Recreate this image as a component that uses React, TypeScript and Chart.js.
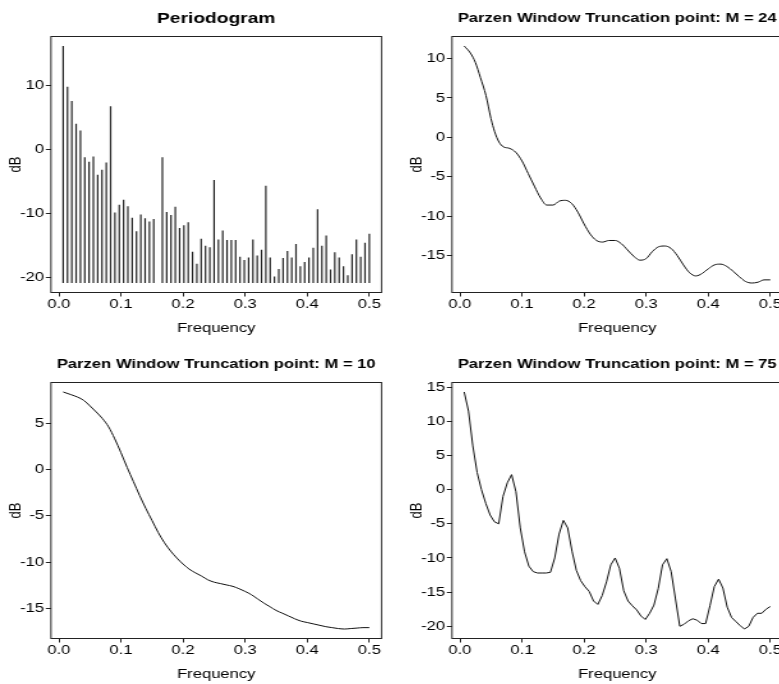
import React, { useEffect, useRef } from 'react';
import { Chart, registerables } from 'chart.js';

Chart.register(...registerables);

// ---------- data ----------
const N = 144; // series length; Fourier frequencies k/N, k = 1..72
const fourierFreq = Array.from({ length: N / 2 }, (_, i) => (i + 1) / N);

const periodogramDb = [
  16.1, 9.75, 7.5, 3.96, 2.92, -1.25, -1.98, -1.15, -4.0, -3.2, -2.1, 6.7,
  -9.9, -8.7, -7.9, -8.9, -10.7, -12.8, -10.2, -10.8, -11.3, -10.9, -20.9, -1.25,
  -9.8, -10.3, -9.0, -12.3, -11.9, -11.4, -16.0, -17.9, -14.0, -15.1, -15.3, -4.8,
  -14.1, -12.7, -14.2, -14.2, -14.2, -16.8, -17.3, -16.9, -14.1, -16.6, -15.7, -5.7,
  -16.9, -19.9, -18.7, -17.0, -15.9, -16.9, -14.8, -18.3, -17.6, -16.9, -15.4, -9.4,
  -15.1, -13.5, -18.8, -16.1, -16.9, -18.3, -19.7, -16.4, -14.1, -16.8, -14.6, -13.2,
];

const parzen24Freq = [
  0.0069, 0.017, 0.025, 0.033, 0.042, 0.05, 0.056, 0.063, 0.07,
  0.08, 0.09, 0.10, 0.11, 0.12, 0.13, 0.14, 0.15, 0.16, 0.17, 0.18, 0.19, 0.20,
  0.21, 0.22, 0.23, 0.24, 0.25, 0.26, 0.27, 0.28, 0.29, 0.30, 0.31, 0.32, 0.33,
  0.34, 0.35, 0.36, 0.37, 0.38, 0.39, 0.40, 0.41, 0.42, 0.43, 0.44, 0.45, 0.46,
  0.47, 0.48, 0.49, 0.50,
];
const parzen24Db = [
  11.6, 10.7, 9.5, 7.6, 5.3, 2.4, 0.7, -0.6, -1.2,
  -1.4, -1.9, -3.0, -4.6, -6.2, -7.7, -8.6, -8.6, -8.1, -8.0, -8.4, -9.5, -11.0,
  -12.3, -13.1, -13.3, -13.1, -13.1, -13.5, -14.3, -15.1, -15.6, -15.4, -14.5, -13.9, -13.8,
  -14.1, -15.0, -16.2, -17.2, -17.6, -17.3, -16.7, -16.2, -16.1, -16.4, -17.0, -17.7, -18.3,
  -18.5, -18.4, -18.1, -18.1,
];

const parzen10Freq = [
  0.0069, 0.02, 0.03, 0.04, 0.05, 0.06, 0.07, 0.08, 0.09, 0.10,
  0.11, 0.12, 0.13, 0.14, 0.15, 0.16, 0.17, 0.18, 0.19, 0.20,
  0.21, 0.22, 0.23, 0.24, 0.25, 0.26, 0.27, 0.28, 0.29, 0.30,
  0.31, 0.32, 0.33, 0.34, 0.35, 0.36, 0.37, 0.38, 0.39, 0.40,
  0.41, 0.42, 0.43, 0.44, 0.45, 0.46, 0.47, 0.48, 0.49, 0.50,
];
const parzen10Db = [
  8.35, 8.05, 7.8, 7.45, 6.85, 6.2, 5.5, 4.6, 3.3, 1.8,
  0.2, -1.3, -2.8, -4.2, -5.5, -6.8, -7.9, -8.8, -9.55, -10.2,
  -10.75, -11.15, -11.5, -11.9, -12.15, -12.3, -12.45, -12.6, -12.85, -13.15,
  -13.5, -13.95, -14.4, -14.8, -15.2, -15.5, -15.8, -16.1, -16.35, -16.5,
  -16.65, -16.8, -16.95, -17.05, -17.15, -17.2, -17.15, -17.1, -17.05, -17.05,
];

const parzen75Db = [
  14.3, 11.5, 6.4, 2.5, 0.0, -2.0, -3.7, -4.7, -5.0, -1.0, 1.0, 2.2,
  -0.3, -5.6, -9.1, -11.2, -12.0, -12.2, -12.2, -12.2, -12.1, -10.0, -6.5, -4.5,
  -5.6, -9.0, -11.8, -13.3, -14.2, -14.9, -16.3, -16.8, -15.5, -13.5, -11.0, -10.0,
  -11.5, -14.8, -16.3, -17.0, -17.6, -18.5, -19.0, -18.1, -16.9, -14.5, -11.0, -10.1,
  -12.0, -16.0, -20.0, -19.7, -19.2, -18.9, -19.1, -19.6, -19.6, -17.0, -14.2, -13.1,
  -14.4, -17.2, -18.7, -19.3, -19.9, -20.4, -20.0, -18.7, -18.1, -18.1, -17.5, -17.1,
];

const freqTicks = [0, 0.1, 0.2, 0.3, 0.4, 0.5];
const ticksPeriodogram = [-20, -10, 0, 10];
const ticksM24 = [-15, -10, -5, 0, 5, 10];
const ticksM10 = [-15, -10, -5, 0, 5];
const ticksM75 = [-20, -15, -10, -5, 0, 5, 10, 15];

// ---------- layout ----------
const S = 1.28; // horizontal stretch of the picture
const CW = 305;
const CH = 346;
const AREA_LEFT = 39.84;
const AREA_RIGHT = 298.4;
const AREA_TOP = 36.5;
const AREA_BOTTOM = 292.5;
const FONT = "'Liberation Sans', Arial, Helvetica, sans-serif";

function rRange(vals: number[]): [number, number] {
  const lo = Math.min(...vals);
  const hi = Math.max(...vals);
  const e = (hi - lo) * 0.04;
  return [lo - e, hi + e];
}

const framePlugin = {
  id: 'frame',
  afterDraw(chart: any, _args: any, opts: any) {
    const { ctx, chartArea } = chart;
    const { left, top, right, bottom } = chartArea;
    ctx.save();
    ctx.strokeStyle = '#222';
    ctx.lineWidth = 1;
    ctx.strokeRect(left, top, right - left, bottom - top);
    ctx.fillStyle = '#000';
    ctx.font = `bold ${opts.size}px ${FONT}`;
    ctx.textAlign = 'center';
    ctx.textBaseline = 'alphabetic';
    ctx.fillText(opts.text, (left + right) / 2, opts.baseline);
    ctx.restore();
  },
};

type Spec = {
  key: string;
  title: string;
  titleSize: number;
  titleBaseline: number;
  kind: 'bar' | 'line';
  xs: number[];
  ys: number[];
  yTicks: number[];
  smooth: boolean;
  left: number;
  top: number;
};

function makeConfig(p: Spec): any {
  const [xmin, xmax] = rRange(fourierFreq);
  const [ymin, ymax] = rRange(p.ys);
  const base = Math.min(...p.ys);
  const dataset: any =
    p.kind === 'bar'
      ? {
          type: 'bar',
          data: p.xs.map((x, i) => ({ x, y: [base, p.ys[i]] })),
          backgroundColor: '#222',
          borderWidth: 0,
          barThickness: 1.2,
          inflateAmount: 0,
        }
      : {
          type: 'line',
          data: p.xs.map((x, i) => ({ x, y: p.ys[i] })),
          borderColor: '#111',
          borderWidth: 1,
          pointRadius: 0,
          fill: false,
          cubicInterpolationMode: p.smooth ? 'monotone' : 'default',
          tension: 0,
        };
  const gridOpts = {
    display: true,
    drawOnChartArea: false,
    drawTicks: true,
    tickLength: 4,
    color: '#222',
    lineWidth: 1,
  };
  return {
    type: p.kind,
    data: { datasets: [dataset] },
    options: {
      responsive: false,
      animation: false,
      devicePixelRatio: 1,
      events: [],
      layout: { padding: { left: 0, top: AREA_TOP, right: CW - AREA_RIGHT, bottom: 0 } },
      plugins: {
        legend: { display: false },
        tooltip: { enabled: false },
        title: { display: false },
        frame: { text: p.title, size: p.titleSize, baseline: p.titleBaseline },
      },
      scales: {
        x: {
          type: 'linear',
          position: 'bottom',
          min: xmin,
          max: xmax,
          offset: false,
          afterBuildTicks: (s: any) => {
            s.ticks = freqTicks.map((v) => ({ value: v }));
          },
          afterFit: (s: any) => {
            s.height = CH - AREA_BOTTOM;
            s.paddingLeft = 0;
            s.paddingRight = 0;
          },
          grid: { ...gridOpts, offset: false },
          border: { display: false },
          ticks: {
            autoSkip: false,
            maxRotation: 0,
            minRotation: 0,
            padding: 0,
            color: '#000',
            font: { family: FONT, size: 13 },
            callback: (v: any) => Number(v).toFixed(1),
          },
          title: {
            display: true,
            text: 'Frequency',
            color: '#000',
            font: { family: FONT, size: 13 },
            padding: { top: 0, bottom: 10.1 },
          },
        },
        y: {
          type: 'linear',
          position: 'left',
          min: ymin,
          max: ymax,
          afterBuildTicks: (s: any) => {
            s.ticks = p.yTicks.map((v) => ({ value: v }));
          },
          afterFit: (s: any) => {
            s.width = AREA_LEFT;
            s.paddingTop = 0;
            s.paddingBottom = 0;
          },
          grid: gridOpts,
          border: { display: false },
          ticks: {
            autoSkip: false,
            padding: 1.4,
            color: '#000',
            font: { family: FONT, size: 13 },
            callback: (v: any) => String(v),
          },
          title: {
            display: true,
            text: 'dB',
            color: '#000',
            font: { family: FONT, size: 13 },
            padding: { top: 4.9, bottom: 0 },
          },
        },
      },
    },
    plugins: [framePlugin],
  };
}

const specs: Spec[] = [
  {
    key: 'pg', title: 'Periodogram', titleSize: 15, titleBaseline: 23.3, kind: 'bar',
    xs: fourierFreq, ys: periodogramDb, yTicks: ticksPeriodogram, smooth: false, left: 0, top: 0,
  },
  {
    key: 'm24', title: 'Parzen Window Truncation point: M = 24', titleSize: 13, titleBaseline: 22, kind: 'line',
    xs: parzen24Freq, ys: parzen24Db, yTicks: ticksM24, smooth: true, left: 401, top: 0,
  },
  {
    key: 'm10', title: 'Parzen Window Truncation point: M = 10', titleSize: 13, titleBaseline: 22, kind: 'line',
    xs: parzen10Freq, ys: parzen10Db, yTicks: ticksM10, smooth: true, left: 0, top: 346,
  },
  {
    key: 'm75', title: 'Parzen Window Truncation point: M = 75', titleSize: 13, titleBaseline: 22, kind: 'line',
    xs: fourierFreq, ys: parzen75Db, yTicks: ticksM75, smooth: false, left: 401, top: 346,
  },
];

function Panel({ spec }: { spec: Spec }) {
  const ref = useRef<HTMLCanvasElement>(null);
  useEffect(() => {
    const chart = new Chart(ref.current as HTMLCanvasElement, makeConfig(spec));
    return () => chart.destroy();
  }, [spec]);
  return (
    <canvas
      ref={ref}
      width={CW}
      height={CH}
      style={{
        position: 'absolute',
        left: spec.left,
        top: spec.top,
        width: `${CW * S}px`,
        height: `${CH}px`,
        display: 'block',
      }}
    />
  );
}

export default function App() {
  return (
    <div
      style={{
        position: 'fixed',
        left: 0,
        top: 0,
        width: 779,
        height: 684,
        overflow: 'hidden',
        background: '#fff',
      }}
    >
      {specs.map((s) => (
        <Panel key={s.key} spec={s} />
      ))}
    </div>
  );
}
